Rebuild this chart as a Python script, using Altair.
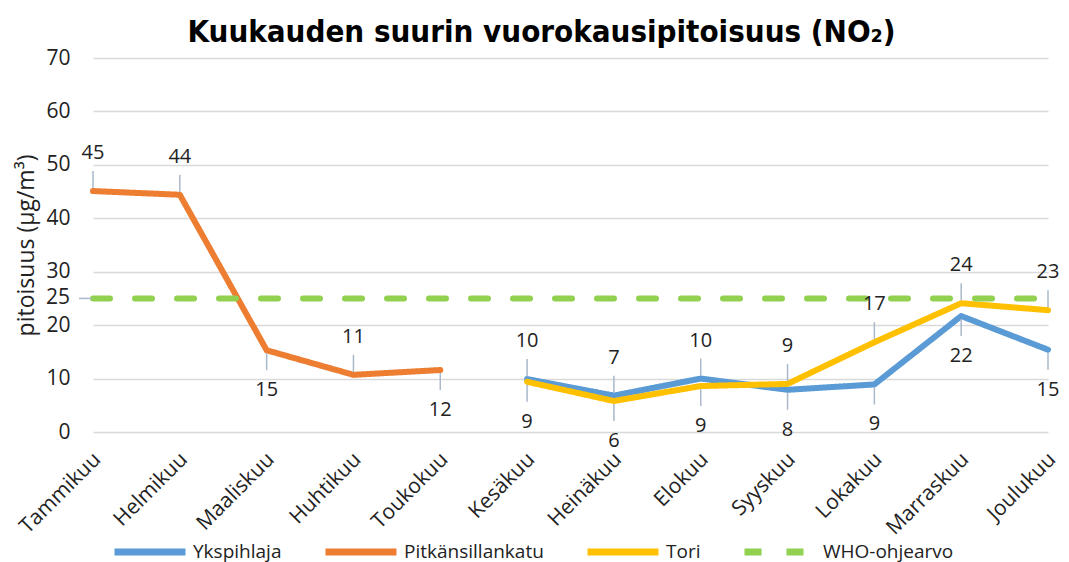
import altair as alt
import pandas as pd

months = ["Tammikuu", "Helmikuu", "Maaliskuu", "Huhtikuu", "Toukokuu", "Kesäkuu",
          "Heinäkuu", "Elokuu", "Syyskuu", "Lokakuu", "Marraskuu", "Joulukuu"]
series_names = ["Ykspihlaja", "Pitkänsillankatu", "Tori", "WHO-ohjearvo"]
colors = ["#5B9BD5", "#ED7D31", "#FFC000", "#92D050"]

ykspihlaja = [None, None, None, None, None, 9.9, 6.8, 10.0, 7.9, 8.9, 21.7, 15.4]
pitkansillankatu = [45.1, 44.4, 15.3, 10.7, 11.6, None, None, None, None, None, None, None]
tori = [None, None, None, None, None, 9.4, 5.8, 8.6, 9.0, 16.8, 24.1, 22.8]
who = [25, 25, 25, 25, 25, 25, 25, 25, 25, 25, 25, 25]

# label placement: 1 = above the point, -1 = below, 2 = left, 0 = no label
side_ykspihlaja = [0, 0, 0, 0, 0, 1, 1, 1, -1, -1, -1, -1]
side_pitk = [1, 1, -1, 1, -1, 0, 0, 0, 0, 0, 0, 0]
side_tori = [0, 0, 0, 0, 0, -1, -1, -1, 1, 1, 1, 1]
side_who = [2, 0, 0, 0, 0, 0, 0, 0, 0, 0, 0, 0]

rows = []
for name, vals, sides in [("Ykspihlaja", ykspihlaja, side_ykspihlaja),
                          ("Pitkänsillankatu", pitkansillankatu, side_pitk),
                          ("Tori", tori, side_tori),
                          ("WHO-ohjearvo", who, side_who)]:
    for m, v, s in zip(months, vals, sides):
        if v is None:
            continue
        rows.append({"month": m, "series": name, "value": v,
                     "label": str(int(round(v))), "side": s})
df = pd.DataFrame(rows)

FONT = "Open Sans"
TXT = "#222222"

x_enc = alt.X("month:N", sort=months,
              scale=alt.Scale(type="point", padding=0),
              axis=alt.Axis(title=None, labelAngle=-45, labelAlign="right",
                            labelBaseline="middle", labelPadding=24, labelOffset=4,
                            labelFontSize=21, labelFont=FONT, labelColor=TXT,
                            ticks=False, domain=False, grid=False))
y_enc = alt.Y("value:Q", scale=alt.Scale(domain=[0, 70], nice=False),
              axis=alt.Axis(title="pitoisuus (µg/m³)", values=[0, 10, 20, 30, 40, 50, 60, 70],
                            labelFontSize=21, labelFont=FONT, labelColor=TXT,
                            labelPadding=23, ticks=False, domain=False,
                            gridColor="#D9D9D9", gridWidth=1.5,
                            titleFontSize=23, titleFont=FONT, titleFontWeight="normal",
                            titleColor=TXT, titleX=-67, titleBaseline="middle"))

base = alt.Chart(df)

legend = alt.Legend(title=None, orient="none", direction="horizontal",
                    legendX=18, legendY=455, symbolType="stroke", symbolSize=5041,
                    symbolStrokeWidth=7, labelFontSize=19, labelFont=FONT,
                    labelColor=TXT, columnPadding=29, labelOffset=4, padding=0)

lines = base.mark_line(strokeWidth=6, strokeCap="round", strokeJoin="round").encode(
    x=x_enc, y=y_enc,
    color=alt.Color("series:N", scale=alt.Scale(domain=series_names, range=colors),
                    sort=series_names, legend=legend),
    strokeDash=alt.StrokeDash("series:N",
                              scale=alt.Scale(domain=series_names,
                                              range=[[1, 0], [1, 0], [1, 0], [17, 25]]),
                              sort=series_names, legend=legend),
    detail="series:N",
)

leader_color = "#A9B8CA"
lead_up = base.transform_filter(alt.datum.side == 1).mark_rule(
    color=leader_color, strokeWidth=1.5, yOffset=-3, y2Offset=-20).encode(
    x=alt.X("month:N", sort=months), y="value:Q", y2=alt.Y2("value:Q"))
lead_down = base.transform_filter(alt.datum.side == -1).mark_rule(
    color=leader_color, strokeWidth=1.5, yOffset=3, y2Offset=20).encode(
    x=alt.X("month:N", sort=months), y="value:Q", y2=alt.Y2("value:Q"))
lead_left = base.transform_filter(alt.datum.side == 2).mark_rule(
    color=leader_color, strokeWidth=1.5, xOffset=-14, x2Offset=-1).encode(
    x=alt.X("month:N", sort=months), x2=alt.X2("month:N"), y="value:Q")

lab_up = base.transform_filter(alt.datum.side == 1).mark_text(
    dy=-38, fontSize=20, font=FONT, color=TXT).encode(
    x=alt.X("month:N", sort=months), y="value:Q", text="label:N")
lab_down = base.transform_filter(alt.datum.side == -1).mark_text(
    dy=40, fontSize=20, font=FONT, color=TXT).encode(
    x=alt.X("month:N", sort=months), y="value:Q", text="label:N")
lab_left = base.transform_filter(alt.datum.side == 2).mark_text(
    dx=-23, align="right", fontSize=21, font=FONT, color=TXT).encode(
    x=alt.X("month:N", sort=months), y="value:Q", text="label:N")

chart = alt.layer(lines, lead_up, lead_down, lead_left, lab_up, lab_down, lab_left).properties(
    width=955, height=374,
    autosize="none",
    padding={"left": 85, "top": 50, "right": 13, "bottom": 135},
    title=alt.TitleParams("Kuukauden suurin vuorokausipitoisuus (NO₂)",
                          font="DejaVu Sans Condensed",
                          fontSize=31, fontWeight="bold", color="#000000",
                          anchor="middle", dx=-29, offset=-2),
).configure_view(stroke=None)

chart.save("out.html", embed_options={"renderer": "svg", "actions": False})
